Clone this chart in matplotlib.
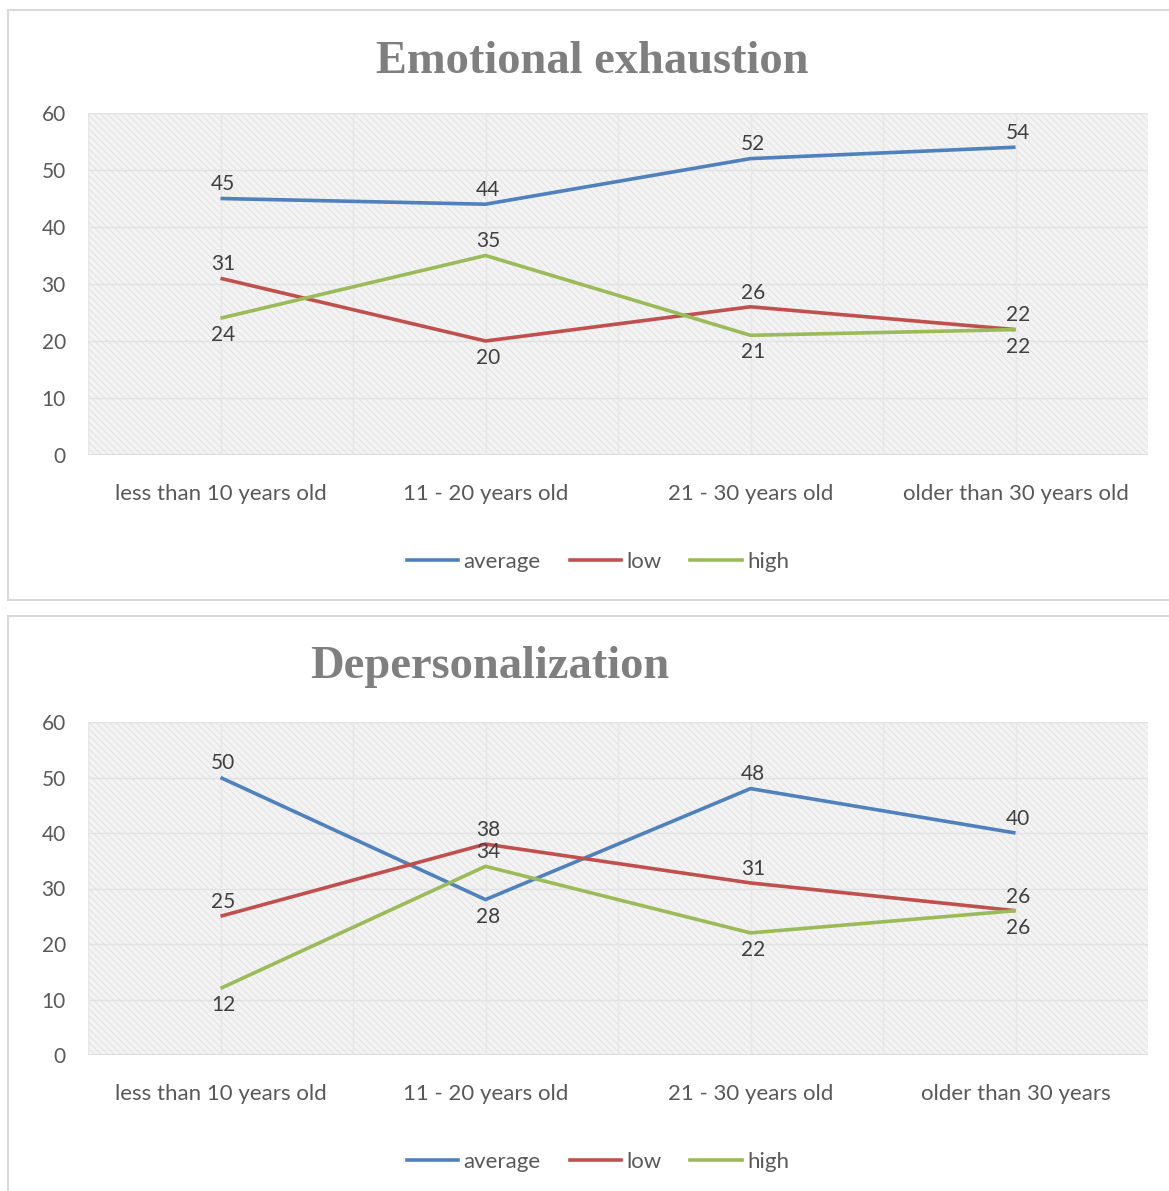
import matplotlib
matplotlib.use("Agg")
import matplotlib.pyplot as plt
from matplotlib.patches import Rectangle
from matplotlib.lines import Line2D

# Age groups and burnout level counts
categories_ee = ["less than 10 years old", "11 - 20 years old", "21 - 30 years old", "older than 30 years old"]
categories_dp = ["less than 10 years old", "11 - 20 years old", "21 - 30 years old", "older than 30 years"]

ee_average = [45, 44, 52, 54]
ee_low = [31, 20, 26, 22]
ee_high = [24, 35, 21, 22]

dp_average = [50, 28, 48, 40]
dp_low = [25, 38, 31, 26]
dp_high = [12, 34, 22, 26]

series_names = ["average", "low", "high"]
y_ticks = [0, 10, 20, 30, 40, 50, 60]

COLORS = ["#4F81BD", "#C0504D", "#9BBB59"]
TICK_COLOR = "#595959"
LABEL_COLOR = "#404040"
TITLE_COLOR = "#7f7f7f"

W, H = 1169, 1191
fig = plt.figure(figsize=(W / 100, H / 100), dpi=100)
fig.patch.set_facecolor("white")
plt.rcParams["hatch.linewidth"] = 0.6
plt.rcParams["hatch.color"] = "#dcdcdc"

LABEL_FONT = ["Lato", "DejaVu Sans"]
TITLE_FONT = ["Liberation Serif", "DejaVu Serif"]


def fx(px):
    return px / W


def fy(py):
    return 1 - py / H


def panel(box, plot, title, title_x, title_y, cats, data, places, legend_y):
    bx0, by0, bx1, by1 = box
    fig.patches.append(Rectangle((fx(bx0), fy(by1)), fx(bx1 - bx0), (by1 - by0) / H,
                                 transform=fig.transFigure, facecolor="white",
                                 edgecolor="#d9d9d9", linewidth=1.5, zorder=-5))
    px0, py0, px1, py1 = plot
    ax = fig.add_axes([fx(px0), fy(py1), fx(px1 - px0), (py1 - py0) / H])
    ax.set_zorder(2)
    ax.set_facecolor("#f3f3f3")
    ax.add_patch(Rectangle((0, 0), 1, 1, transform=ax.transAxes, facecolor="none",
                           hatch="\\\\\\\\\\", edgecolor="#e0e0e0", linewidth=0, zorder=0))
    ax.set_xlim(-0.5, 3.5)
    ax.set_ylim(0, 60)
    ax.set_yticks(y_ticks)
    ax.set_xticks(range(len(cats)))
    ax.set_xticklabels(cats)
    for s in ax.spines.values():
        s.set_visible(False)
    ax.tick_params(length=0, colors=TICK_COLOR, labelsize=15)
    ax.tick_params(axis="x", pad=21, labelsize=16)
    ax.tick_params(axis="y", pad=16)
    for lab in ax.get_xticklabels() + ax.get_yticklabels():
        lab.set_fontfamily(LABEL_FONT)
    for yv in y_ticks[1:]:
        ax.axhline(yv, color="#e2e2e2", linewidth=1.0, zorder=1)
    ax.axhline(0, color="#d9d9d9", linewidth=1.2, zorder=1)
    for xv in [i * 0.5 for i in range(0, 8)]:
        ax.axvline(xv - 0.5, color="#e6e6e6", linewidth=1.0, zorder=1)

    xs = list(range(len(cats)))
    for vals, color, pl, name in zip(data, COLORS, places, series_names):
        ax.plot(xs, vals, color=color, linewidth=2.6, zorder=3, label=name,
                solid_capstyle="butt")
        for x, v, p in zip(xs, vals, pl):
            off = 3 if p == "a" else -5
            va = "bottom" if p == "a" else "top"
            ax.annotate(str(v), (x, v), xytext=(2, off), textcoords="offset points",
                        ha="center", va=va, fontsize=15, color=LABEL_COLOR,
                        family=LABEL_FONT, zorder=4)

    fig.text(fx(title_x), fy(title_y), title, ha="center", va="center",
             fontsize=33.5, fontweight="bold", color=TITLE_COLOR, family=TITLE_FONT)

    handles = [Line2D([0], [0], color=c, linewidth=2.6) for c in COLORS]
    fig.legend(handles, series_names, loc="center", bbox_to_anchor=(fx(598), fy(legend_y)),
               ncol=3, frameon=False, handlelength=2.3, handletextpad=0.25,
               columnspacing=1.3, prop={"family": LABEL_FONT, "size": 16},
               labelcolor=TICK_COLOR)
    return ax


ee_places = [["a", "a", "a", "a"], ["a", "b", "a", "a"], ["b", "a", "b", "b"]]
dp_places = [["a", "b", "a", "a"], ["a", "a", "a", "a"], ["b", "a", "b", "b"]]

panel((8, 10, 1175, 600), (88, 113, 1148, 455), "Emotional exhaustion", 592, 62,
      categories_ee, [ee_average, ee_low, ee_high], ee_places, 562)
panel((8, 616, 1175, 1200), (88, 722, 1148, 1055), "Depersonalization", 490, 667,
      categories_dp, [dp_average, dp_low, dp_high], dp_places, 1162)

fig.savefig("out.png", dpi=100, facecolor="white")
